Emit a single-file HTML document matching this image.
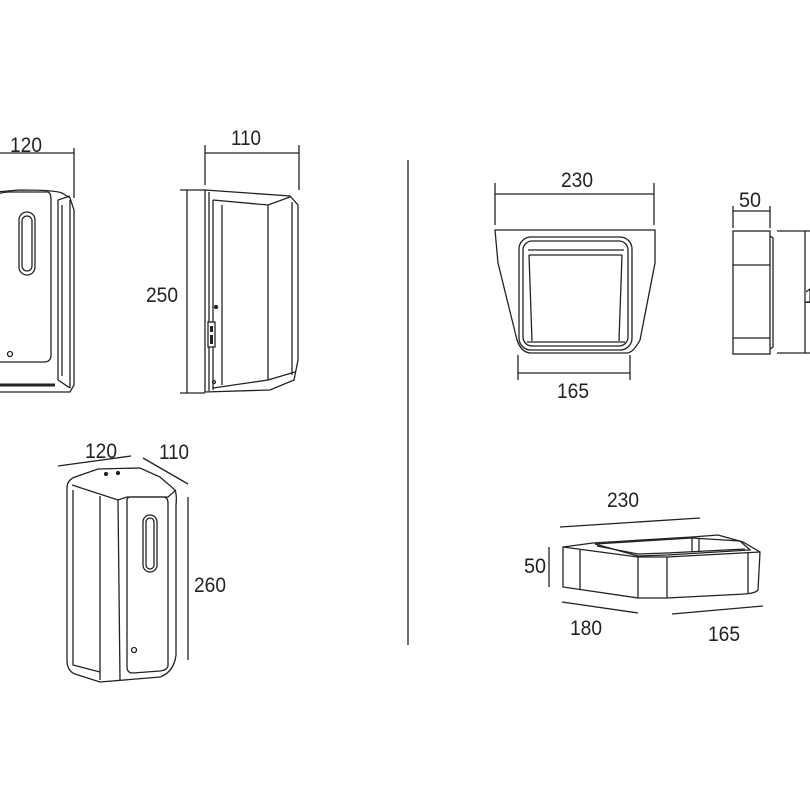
<!DOCTYPE html>
<html><head><style>html,body{margin:0;padding:0;background:#fff}svg{display:block}</style></head><body>
<svg width="810" height="810" viewBox="0 0 810 810" xmlns="http://www.w3.org/2000/svg" font-family="Liberation Sans, sans-serif" font-size="21" fill="none" stroke="#222" stroke-width="1.3">
<g fill="#222" stroke="none" text-anchor="middle">
<text x="26" y="152" textLength="32" lengthAdjust="spacingAndGlyphs">120</text>
<text x="246" y="145" textLength="30" lengthAdjust="spacingAndGlyphs">110</text>
<text x="162" y="302" textLength="32" lengthAdjust="spacingAndGlyphs">250</text>
<text x="101" y="458" textLength="32" lengthAdjust="spacingAndGlyphs">120</text>
<text x="174" y="459" textLength="30" lengthAdjust="spacingAndGlyphs">110</text>
<text x="210" y="592" textLength="32" lengthAdjust="spacingAndGlyphs">260</text>
<text x="577" y="187" textLength="32" lengthAdjust="spacingAndGlyphs">230</text>
<text x="750" y="207" textLength="22" lengthAdjust="spacingAndGlyphs">50</text>
<text x="810" y="303">1</text>
<text x="573" y="398" textLength="32" lengthAdjust="spacingAndGlyphs">165</text>
<text x="623" y="507" textLength="32" lengthAdjust="spacingAndGlyphs">230</text>
<text x="535" y="573" textLength="22" lengthAdjust="spacingAndGlyphs">50</text>
<text x="586" y="635" textLength="32" lengthAdjust="spacingAndGlyphs">180</text>
<text x="724" y="641" textLength="32" lengthAdjust="spacingAndGlyphs">165</text>
</g>
<!-- divider -->
<line x1="408" y1="160" x2="408" y2="645"/>
<!-- front view -->
<line x1="0" y1="153" x2="74" y2="153"/><line x1="74" y1="148" x2="74" y2="198"/>
<path d="M-5 192 L20 190 Q55 190 62 193 L70 198 L74 210 L74 385 L70 392 L-5 392"/>
<path d="M-5 196 Q0 192 10 192 L48 192 Q51 193 51 200 L51 355 Q51 362 44 362 L-5 362"/>
<rect x="19" y="212" width="16" height="63" rx="8"/><rect x="22" y="216" width="10" height="55" rx="5"/>
<circle cx="10" cy="354" r="2.5"/>
<line x1="58" y1="200" x2="58" y2="380"/><line x1="62" y1="205" x2="62" y2="376"/><line x1="70" y1="200" x2="70" y2="388"/>
<path d="M58 200 L70 196 M58 380 L70 388"/>
<line x1="-5" y1="385" x2="55" y2="385" stroke-width="3"/>
<!-- side view -->
<line x1="205" y1="153" x2="299" y2="153"/><line x1="205" y1="145" x2="205" y2="185"/><line x1="299" y1="145" x2="299" y2="190"/>
<line x1="187" y1="190" x2="187" y2="393"/><line x1="180" y1="190" x2="205" y2="190"/><line x1="180" y1="393" x2="205" y2="393"/>
<path d="M205 190 L290 196 L298 205 L298 360 L294 380 L270 390 L205 392 Z"/>
<line x1="209" y1="192" x2="209" y2="391"/><line x1="213" y1="200" x2="213" y2="390"/>
<path d="M213 200 L268 205 L290 197 M268 205 L268 380 L295 372 M213 388 L268 380"/>
<line x1="222" y1="205" x2="222" y2="385"/>
<line x1="292" y1="202" x2="292" y2="375"/>
<rect x="208" y="322" width="7" height="25" fill="#fff"/><rect x="210" y="326" width="3" height="6" fill="#222" stroke="none"/><rect x="210" y="335" width="3" height="9" fill="#222" stroke="none"/>
<circle cx="216" cy="307" r="1.5" fill="#222"/><circle cx="214" cy="382" r="1.5"/>
<!-- iso dispenser -->
<line x1="58" y1="466" x2="131" y2="456"/><line x1="143" y1="458" x2="188" y2="484"/>
<line x1="188" y1="497" x2="188" y2="660"/>
<path d="M67 488 Q67 480 75 477 L98 469 L140 468 L160 477 L175 490 Q177 495 176 505 L176 655 Q174 672 160 677 L100 682 L75 674 Q67 671 67 660 Z"/>
<path d="M72 485 L118 500 L127 497 L168 497 L176 490"/>
<path d="M73 490 L73 665 L100 672 M100 496 L100 680 M118 500 L120 680"/>
<path d="M127 500 Q127 497 131 497 L163 497 Q168 497 168 503 L168 665 Q168 670 160 671 L133 673 Q127 673 127 667 Z"/>
<rect x="143" y="515" width="14" height="57" rx="7"/><rect x="146" y="518" width="8" height="51" rx="4"/>
<circle cx="134" cy="650" r="2.5"/>
<circle cx="106" cy="474" r="1.5" fill="#222"/><circle cx="118" cy="473" r="1.5" fill="#222"/>
<!-- top right front view -->
<line x1="495" y1="194" x2="654" y2="194"/><line x1="495" y1="183" x2="495" y2="225"/><line x1="654" y1="183" x2="654" y2="225"/>
<path d="M495 230 L655 230 L655 263 L640 340 Q633 353 627 353 L530 353 Q521 352 517 340 L498 263 Z"/>
<rect x="519" y="237" width="113" height="113" rx="12"/>
<rect x="523" y="241" width="105" height="105" rx="9"/>
<path d="M528 250 L624 250 M529 255 L622 255 M529 255 L532 341 M622 255 L619 341 M527 342 L625 342"/>
<line x1="518" y1="373" x2="630" y2="373"/><line x1="518" y1="355" x2="518" y2="380"/><line x1="630" y1="355" x2="630" y2="380"/>
<!-- side box -->
<rect x="733" y="231" width="37" height="123"/>
<line x1="733" y1="265" x2="770" y2="265"/><line x1="733" y1="338" x2="770" y2="338"/>
<path d="M770 236 L773 238 L773 347 L770 349"/>
<line x1="733" y1="211" x2="770" y2="211"/><line x1="733" y1="206" x2="733" y2="228"/><line x1="770" y1="206" x2="770" y2="228"/>
<line x1="805" y1="231" x2="805" y2="353"/><line x1="777" y1="231" x2="810" y2="231"/><line x1="777" y1="353" x2="810" y2="353"/>
<!-- iso tray -->
<line x1="560" y1="527" x2="700" y2="518"/><line x1="549" y1="547" x2="549" y2="587"/>
<line x1="562" y1="602" x2="638" y2="613"/><line x1="672" y1="614" x2="763" y2="606"/>
<path d="M563 547 L593 543 L692 537 L718 535 L743 542 L760 552 L758 590 Q756 593 745 594 L667 598 L638 598 L563 587 Z"/>
<path d="M563 547 L638 557 L667 557 L760 552"/>
<path d="M595 544 L638 556 L667 555 L750 550 L740 541 L692 538 Z"/>
<path d="M597 546 L638 554 L667 553 L745 549"/>
<line x1="580" y1="550" x2="580" y2="589"/><line x1="638" y1="557" x2="638" y2="598"/><line x1="667" y1="557" x2="667" y2="598"/><line x1="748" y1="553" x2="748" y2="593"/>
<line x1="692" y1="538" x2="692" y2="552"/><line x1="699" y1="538" x2="699" y2="552"/>
</svg>
</body></html>
